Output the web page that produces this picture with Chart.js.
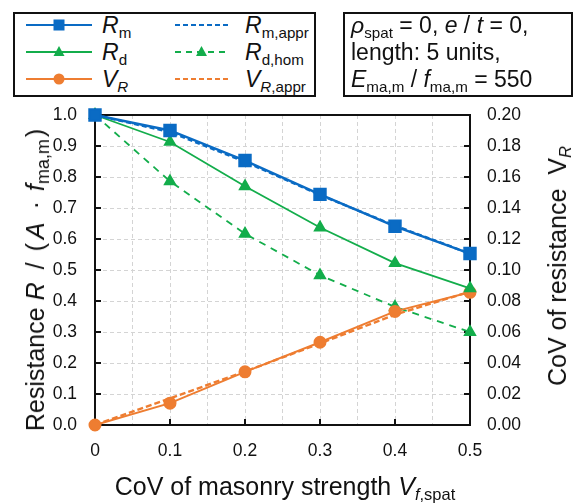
<!DOCTYPE html>
<html>
<head>
<meta charset="utf-8">
<script src="https://cdn.jsdelivr.net/npm/chart.js@4/dist/chart.umd.min.js"></script>
<style>
  html, body { margin:0; padding:0; background:#fff; }
  body { width:578px; height:503px; position:relative; overflow:hidden; font-family:"Liberation Sans", Arial, sans-serif; color:#111; }
  #c { position:absolute; left:0; top:0; }
  .box { position:absolute; border:2px solid #111; box-sizing:border-box; background:#fff; }
  .lt { position:absolute; font-size:23px; line-height:26px; white-space:nowrap; }
  sub { font-size:0.66em; vertical-align:-0.3em; line-height:0; }
  .ttl { position:absolute; font-size:25px; white-space:nowrap; line-height:26px; }
  .rot { transform: translate(-50%,-50%) rotate(-90deg); }
  .sp { display:inline-block; }
  svg { position:absolute; overflow:visible; }
</style>
</head>
<body>
<canvas id="c" width="578" height="503"></canvas>

<div class="box" style="left:13px; top:12px; width:303px; height:85px;"></div>
<div class="box" style="left:343px; top:12px; width:230px; height:85px;"></div>
<div id="legend"></div>
<div class="lt" style="left:351px; top:12px;"><i>ρ</i><sub>spat</sub> = 0, <i>e</i> / <i>t</i> = 0,</div>
<div class="lt" style="left:351px; top:39px;">length: 5 units,</div>
<div class="lt" style="left:351px; top:66px;"><i>E</i><sub>ma,m</sub> / <i>f</i><sub>ma,m</sub> = 550</div>

<div class="ttl rot" style="left:35px; top:280px;">Resistance <i>R</i><span class="sp" style="width:13px"></span>/<span class="sp" style="width:11px"></span>(<span class="sp" style="width:4px"></span><i>A</i><span class="sp" style="width:13px"></span>·<span class="sp" style="width:10px"></span><i>f</i><sub style="font-size:0.72em">ma,m</sub><span class="sp" style="width:2px"></span>)</div>
<div class="ttl rot" style="left:557px; top:266px;">CoV of resistance&nbsp; V<sub><i>R</i></sub></div>
<div class="ttl" style="left:285px; top:473px; transform:translateX(-50%);">CoV of masonry strength <i>V</i><sub><i>f</i>,spat</sub></div>

<script>
// ---- data ----
const xValues = [0, 0.1, 0.2, 0.3, 0.4, 0.5];
const xTickLabels = ["0", "0.1", "0.2", "0.3", "0.4", "0.5"];
const Rm      = [1.000, 0.950, 0.853, 0.744, 0.641, 0.553];
const RmAppr  = [1.000, 0.945, 0.849, 0.742, 0.643, 0.553];
const Rd      = [1.000, 0.913, 0.770, 0.637, 0.522, 0.441];
const RdHom   = [1.000, 0.786, 0.617, 0.483, 0.381, 0.300];
const VR      = [0.000, 0.0141, 0.0343, 0.0534, 0.0733, 0.0856];
const VRAppr  = [0.000, 0.0172, 0.0345, 0.0526, 0.0712, 0.0860];

const BLUE = '#0A6BC4', GREEN = '#13AD4B', ORANGE = '#EE7D31';
const FONT = '"Liberation Sans", Arial, sans-serif';

const pts = arr => arr.map((v, i) => ({x: xValues[i], y: v}));

// ---- legend (HTML) ----
const legendItems = [
  {col:0, row:0, color:BLUE,   dash:null,  marker:'rect',   label:'<i>R</i><sub>m</sub>'},
  {col:0, row:1, color:GREEN,  dash:null,  marker:'tri',    label:'<i>R</i><sub>d</sub>'},
  {col:0, row:2, color:ORANGE, dash:null,  marker:'circle', label:'<i>V<sub>R</sub></i>'},
  {col:1, row:0, color:BLUE,   dash:'5,3', marker:null,     label:'<i>R</i><sub>m,appr</sub>'},
  {col:1, row:1, color:GREEN,  dash:'6,5', marker:'tri',    label:'<i>R</i><sub>d,hom</sub>'},
  {col:1, row:2, color:ORANGE, dash:'5,3', marker:null,     label:'<i>V</i><sub><i>R</i>,appr</sub>'},
];
const lg = document.getElementById('legend');
legendItems.forEach(it => {
  const x0 = it.col === 0 ? 26 : 175, x1 = it.col === 0 ? 92 : 228;
  const y = 25 + it.row * 27;
  const tx = it.col === 0 ? 102 : 245;
  const cx = (x0 + x1) / 2;
  let m = '';
  if (it.marker === 'rect') m = `<rect x="${cx-5.5}" y="${y-5.5}" width="11" height="11" fill="${it.color}"/>`;
  if (it.marker === 'tri') m = `<polygon points="${cx},${y-6} ${cx+5.5},${y+4} ${cx-5.5},${y+4}" fill="${it.color}"/>`;
  if (it.marker === 'circle') m = `<circle cx="${cx}" cy="${y}" r="5.5" fill="${it.color}"/>`;
  lg.insertAdjacentHTML('beforeend',
    `<svg style="left:0;top:0" width="578" height="100"><line x1="${x0}" y1="${y}" x2="${x1}" y2="${y}" stroke="${it.color}" stroke-width="2" ${it.dash ? `stroke-dasharray="${it.dash}"` : ''}/>${m}</svg>` +
    `<div class="lt" style="left:${tx}px; top:${y-13}px;">${it.label}</div>`);
});

// ---- frame & inward ticks plugin ----
const frame = {
  id: 'frame',
  beforeDatasetsDraw(chart) {
    const {ctx, chartArea: a, scales} = chart;
    ctx.save();
    ctx.setLineDash([]);
    ctx.strokeStyle = '#111';
    ctx.lineWidth = 2;
    ctx.strokeRect(a.left, a.top, a.right - a.left, a.bottom - a.top);
    ctx.beginPath();
    const L = 6;
    scales.y.ticks.forEach(t => { const p = scales.y.getPixelForValue(t.value); ctx.moveTo(a.left, p); ctx.lineTo(a.left + L, p); });
    scales.y2.ticks.forEach(t => { const p = scales.y2.getPixelForValue(t.value); ctx.moveTo(a.right, p); ctx.lineTo(a.right - L, p); });
    scales.x.ticks.forEach(t => {
      if (Math.abs(t.value * 10 - Math.round(t.value * 10)) > 1e-6) return;
      const p = scales.x.getPixelForValue(t.value); ctx.moveTo(p, a.bottom); ctx.lineTo(p, a.bottom - L);
    });
    ctx.stroke();
    ctx.restore();
  }
};

const tickFont = {family: FONT, size: 17.5};
new Chart(document.getElementById('c'), {
  type: 'line',
  data: {
    datasets: [
      {label:'Rm', data: pts(Rm), yAxisID:'y', borderColor:BLUE, backgroundColor:BLUE, borderWidth:2.4, pointStyle:'rect', pointRadius:7.8, pointHoverRadius:7.8},
      {label:'Rd', data: pts(Rd), yAxisID:'y', borderColor:GREEN, backgroundColor:GREEN, borderWidth:1.8, pointStyle:'triangle', pointRadius:6, pointHoverRadius:6},
      {label:'VR', data: pts(VR), yAxisID:'y2', borderColor:ORANGE, backgroundColor:ORANGE, borderWidth:2, pointStyle:'circle', pointRadius:5.5, pointHoverRadius:5.5},
      {label:'Rm,appr', data: pts(RmAppr), yAxisID:'y', borderColor:BLUE, borderWidth:2.4, borderDash:[5,3], pointRadius:0},
      {label:'Rd,hom', data: pts(RdHom), yAxisID:'y', borderColor:GREEN, backgroundColor:GREEN, borderWidth:1.8, borderDash:[7,6], pointStyle:'triangle', pointRadius:6, pointHoverRadius:6},
      {label:'VR,appr', data: pts(VRAppr), yAxisID:'y2', borderColor:ORANGE, borderWidth:2.4, borderDash:[6,3], pointRadius:0},
    ]
  },
  options: {
    responsive: false,
    animation: false,
    events: [],
    clip: false,
    layout: { padding: { top: 115, left: 0, right: 0, bottom: 0 } },
    plugins: { legend: {display:false}, tooltip: {enabled:false} },
    scales: {
      x: {
        type: 'linear', min: 0, max: 0.5,
        afterFit: s => { s.height = 78; },
        ticks: {
          stepSize: 0.05, font: tickFont, color: '#111', padding: 16, maxRotation: 0, autoSkip: false,
          callback: v => { const k = Math.round(v * 10); return Math.abs(v * 10 - k) < 1e-6 ? xTickLabels[k] : ''; }
        },
        grid: { color: '#d4d4d4', lineWidth: 1, drawTicks: false },
        border: { display: true, color: '#111', width: 2, dash: [4,3] },
      },
      y: {
        position: 'left', min: 0, max: 1,
        afterFit: s => { s.width = 95; },
        ticks: { stepSize: 0.1, font: tickFont, color: '#111', padding: 18, callback: v => v.toFixed(1) },
        grid: { color: '#d4d4d4', lineWidth: 1, drawTicks: false },
        border: { display: true, color: '#111', width: 2, dash: [4,3] },
      },
      y2: {
        position: 'right', min: 0, max: 0.2,
        afterFit: s => { s.width = 108; },
        ticks: { stepSize: 0.02, font: tickFont, color: '#111', padding: 17, callback: v => v.toFixed(2) },
        grid: { drawOnChartArea: false, drawTicks: false },
        border: { display: true, color: '#111', width: 2 },
      }
    }
  },
  plugins: [frame]
});
</script>
</body>
</html>
